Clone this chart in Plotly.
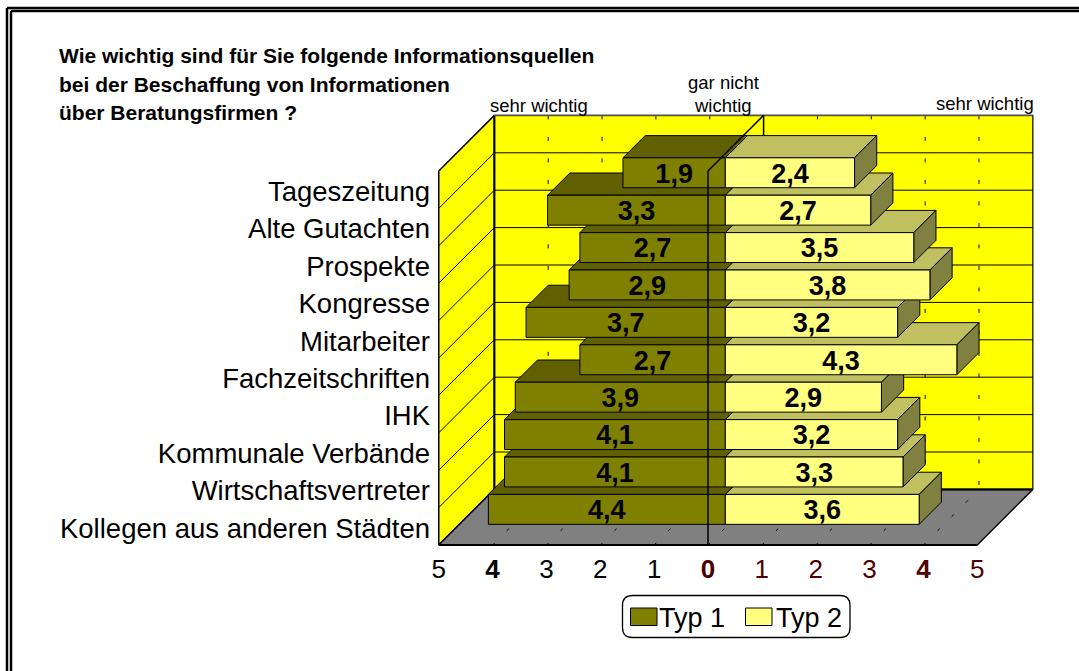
import plotly.graph_objects as go

# --- data ---
categories = ["Kollegen aus anderen Städten", "Wirtschaftsvertreter", "Kommunale Verbände", "IHK",
              "Fachzeitschriften", "Mitarbeiter", "Kongresse", "Prospekte", "Alte Gutachten", "Tageszeitung"]
typ1 = [4.4, 4.1, 4.1, 3.9, 2.7, 3.7, 2.9, 2.7, 3.3, 1.9]
typ2 = [3.6, 3.3, 3.2, 2.9, 4.3, 3.2, 3.8, 3.5, 2.7, 2.4]
tick_values = [-5, -4, -3, -2, -1, 0, 1, 2, 3, 4, 5]
tick_labels = ["5", "<b>4</b>", "3", "2", "1", "<b>0</b>", "1", "2", "3", "<b>4</b>", "5"]
series_names = ["Typ 1", "Typ 2"]
title_lines = ["Wie wichtig sind für Sie folgende Informationsquellen",
               "bei der Beschaffung von Informationen", "über Beratungsfirmen ?"]

W, H = 1079, 671
X0, UX = 708.0, 53.85     # pixel of value 0, pixels per value
Y0, UY = 545.0, 37.4      # pixel of floor front edge, pixels per row
DEPTH_PX = 55.6           # oblique shift of the back wall
DX, DY = DEPTH_PX / UX, DEPTH_PX / UY
NROWS = 10
FONT = "Liberation Sans, Arial, sans-serif"
RIGHT_TICK = "#4d0000"
D_FRONT, D_BACK = 17.3 / DEPTH_PX, 39.5 / DEPTH_PX   # bar front / back planes
R_LOW, R_HIGH = 0.09, 0.89                           # bar extent in its row
LABEL_DROP = 0.08                                    # value labels sit a little below the face centre


def P(v, r, d=0.0):
    return v + d * DX, r + d * DY


def poly(points, fill, line="black", width=1.0, name=None):
    xs = [p[0] for p in points] + [points[0][0]]
    ys = [p[1] for p in points] + [points[0][1]]
    return go.Scatter(x=xs, y=ys, mode="lines", fill="toself", fillcolor=fill,
                      line=dict(color=line, width=width), showlegend=False,
                      hoverinfo="skip", name=name)


def seg(a, b, width=1.0, dash="solid", color="black"):
    return go.Scatter(x=[a[0], b[0]], y=[a[1], b[1]], mode="lines", hoverinfo="skip",
                      line=dict(color=color, width=width, dash=dash), showlegend=False)


fig = go.Figure()

# walls and floor
fig.add_trace(poly([P(-5, 0, 1), P(-5, NROWS, 1), P(5, NROWS, 1), P(5, 0, 1)], "#ffff00", width=1.2))
fig.add_trace(poly([P(-5, 0), P(-5, NROWS), P(-5, NROWS, 1), P(-5, 0, 1)], "#ffff00", width=1.5))
fig.add_trace(poly([P(-5, 0), P(5, 0), P(5, 0, 1), P(-5, 0, 1)], "#808080", width=1.5))

# grid
for r in range(1, NROWS):
    fig.add_trace(seg(P(-5, r, 1), P(5, r, 1)))
    fig.add_trace(seg(P(-5, r), P(-5, r, 1)))
for v in tick_values:
    if v not in (-5, 5, 0):
        fig.add_trace(seg(P(v, NROWS, 1), P(v, 0, 1), dash="4px,17.5px"))
    if v != 5 and v != -5:
        fig.add_trace(seg(P(v, 0), P(v, 0, 1), dash="3px,17px"))
fig.add_trace(seg(P(-5, 0, 1), P(-5, NROWS, 1), width=2))
fig.add_trace(seg(P(-5, 0, 1), P(5, 0, 1), width=2))
fig.add_trace(seg(P(-5, NROWS, 1), P(5, NROWS, 1), width=1.5, color="#555555"))
fig.add_trace(seg(P(0, NROWS, 1), P(0, 0, 1), width=1.5))
fig.add_trace(seg(P(-5, 0), P(5, 0), width=2))

# bars: the reference paints the lower rows first, upper rows over them
for i in range(NROWS):
    lo, hi = i + R_LOW, i + R_HIGH
    a, b = typ1[i], typ2[i]
    fig.add_trace(poly([P(-a, hi, D_FRONT), P(-a, hi, D_BACK), P(0, hi, D_BACK), P(0, hi, D_FRONT)], "#606000"))
    fig.add_trace(poly([P(0, hi, D_FRONT), P(0, hi, D_BACK), P(b, hi, D_BACK), P(b, hi, D_FRONT)], "#c0c060"))
    fig.add_trace(poly([P(b, lo, D_FRONT), P(b, lo, D_BACK), P(b, hi, D_BACK), P(b, hi, D_FRONT)], "#808040"))
    fig.add_trace(poly([P(-a, lo, D_FRONT), P(0, lo, D_FRONT), P(0, hi, D_FRONT), P(-a, hi, D_FRONT)], "#808000", name=series_names[0]))
    fig.add_trace(poly([P(0, lo, D_FRONT), P(b, lo, D_FRONT), P(b, hi, D_FRONT), P(0, hi, D_FRONT)], "#ffff80", name=series_names[1]))

# zero plane drawn over the bars
fig.add_trace(seg(P(0, 0), P(0, NROWS), width=1.5))
fig.add_trace(seg(P(0, NROWS), P(0, NROWS, 1), width=1.5))

# value labels
mid = (R_LOW + R_HIGH) / 2 - LABEL_DROP
fmt = lambda v: f"{v:.1f}".replace(".", ",")
for vals, sign in ((typ1, -1), (typ2, 1)):
    xs, ys = zip(*[P(sign * v / 2, i + mid, D_FRONT) for i, v in enumerate(vals)])
    fig.add_trace(go.Scatter(x=list(xs), y=list(ys), mode="text", text=[fmt(v) for v in vals],
                             textposition="middle center", hoverinfo="skip", showlegend=False,
                             textfont=dict(family=FONT, size=27, color="black", weight=700)))

px = lambda x: x / W
py = lambda y: 1 - y / H
shapes = []
# double frame
for y in (8, 11):
    shapes.append(dict(type="line", xref="paper", yref="paper", x0=px(7 if y == 8 else 11), x1=1, y0=py(y), y1=py(y),
                       line=dict(color="black", width=2.5)))
for x in (7, 11):
    shapes.append(dict(type="line", xref="paper", yref="paper", x0=px(x), x1=px(x), y0=0, y1=py(8 if x == 7 else 11),
                       line=dict(color="black", width=2.5)))

# legend box
L, R, T, B, C = px(622.5), px(850), py(595.5), py(637.5), 10
shapes.append(dict(type="path", xref="paper", yref="paper", fillcolor="white",
                   path=" ".join(["M", str(L + C / W), str(T), "L", str(R - C / W), str(T),
                                  "Q", str(R), str(T), str(R), str(T - C / H),
                                  "L", str(R), str(B + C / H), "Q", str(R), str(B), str(R - C / W), str(B),
                                  "L", str(L + C / W), str(B), "Q", str(L), str(B), str(L), str(B + C / H),
                                  "L", str(L), str(T - C / H), "Q", str(L), str(T), str(L + C / W), str(T), "Z"]),
                   line=dict(color="black", width=1.3)))
for x0, col in ((630.5, "#808000"), (745.5, "#ffff80")):
    shapes.append(dict(type="rect", xref="paper", yref="paper", x0=px(x0), x1=px(x0 + 26.5),
                       y0=py(625.5), y1=py(608), fillcolor=col, line=dict(color="black", width=1)))

ann = []
for line, y in zip(title_lines, (56, 84, 112)):
    ann.append(dict(text=f"<b>{line}</b>", xref="paper", yref="paper", x=px(57), y=py(y), xanchor="left", yanchor="middle",
                    showarrow=False, font=dict(family=FONT, size=21, color="black")))
for text, x, y in (("sehr wichtig", 539, 105), ("sehr wichtig", 985, 103),
                   ("gar nicht", 723, 83), ("wichtig", 723, 105)):
    ann.append(dict(text=text, xref="paper", yref="paper", x=px(x), y=py(y), xanchor="center", yanchor="middle",
                    showarrow=False, font=dict(family=FONT, size=18.5, color="black")))
for name, x in zip(series_names, (692, 809)):
    ann.append(dict(text=name, xref="paper", yref="paper", x=px(x), y=py(618), xanchor="center", yanchor="middle",
                    showarrow=False, font=dict(family=FONT, size=27, color="black")))

tick_text = []
for v, t in zip(tick_values, tick_labels):
    tick_text.append(f'<span style="color:{RIGHT_TICK}">{t}</span>' if v >= 0 else t)

fig.update_layout(
    width=W, height=H, margin=dict(l=0, r=0, t=0, b=0), autosize=False,
    paper_bgcolor="white", plot_bgcolor="white", showlegend=False,
    font=dict(family=FONT, color="black"),
    shapes=shapes, annotations=ann,
    xaxis=dict(range=[(0 - X0) / UX, (W - X0) / UX], tickmode="array", tickvals=tick_values, ticktext=tick_text,
               showgrid=False, zeroline=False, showline=False, ticks="", anchor="free",
               position=py(551), tickfont=dict(family=FONT, size=26, color="black"), fixedrange=True),
    yaxis=dict(range=[(Y0 - H) / UY, Y0 / UY], tickmode="array", tickvals=[i + 0.455 for i in range(NROWS)],
               ticktext=categories, showgrid=False, zeroline=False, showline=False, ticks="", anchor="free",
               position=px(430), tickfont=dict(family=FONT, size=27.5, color="black"), fixedrange=True),
)

fig.write_html("out.html", post_script="document.body.style.margin='0';document.body.style.overflow='hidden';",
               config={"displayModeBar": False})
